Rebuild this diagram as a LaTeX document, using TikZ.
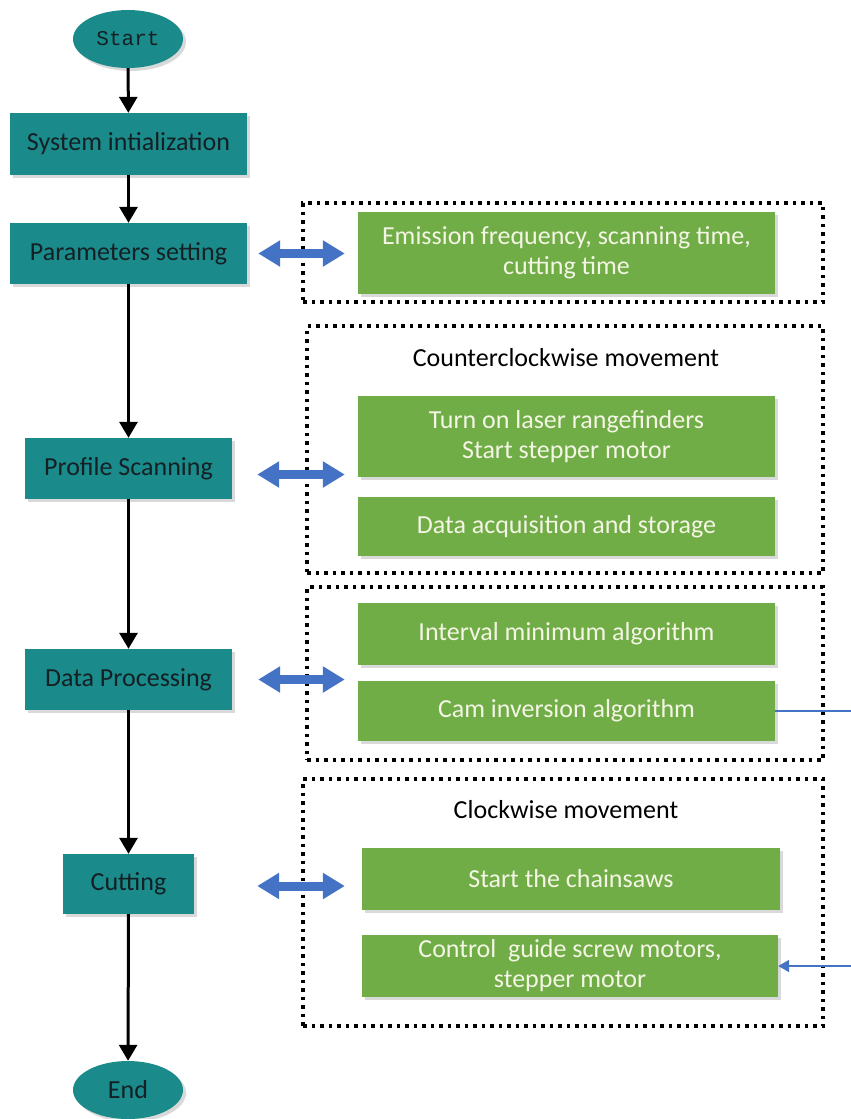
\documentclass[tikz,border=0pt]{standalone}
\usepackage{fontspec}
\setmainfont{Carlito}
\newfontfamily\monofont{Liberation Mono}
\usetikzlibrary{arrows.meta,shapes.geometric,shadows}

\definecolor{tealfill}{RGB}{26,138,138}
\definecolor{greenfill}{RGB}{112,173,71}
\definecolor{bluearrow}{RGB}{68,114,196}
\definecolor{greentext}{RGB}{244,245,228}
\definecolor{darktext}{RGB}{20,32,36}

\begin{document}
\begin{tikzpicture}[x=1pt,y=-1pt,
  shadowed/.style={drop shadow={shadow xshift=3pt,shadow yshift=-3pt,opacity=0.25,fill=black!60}},
  tealbox/.style={rectangle,fill=tealfill,text=darktext,inner sep=0pt,
    font=\fontsize{26}{30}\selectfont,shadowed},
  terminal/.style={ellipse,fill=tealfill,text=darktext,inner sep=0pt,
    minimum width=110pt,minimum height=58pt,shadowed},
  greenbox/.style={rectangle,fill=greenfill,text=greentext,inner sep=0pt,
    align=center,font=\fontsize{26}{30}\selectfont,shadowed},
  frame/.style={rectangle,draw=black,line width=3.5pt,dash pattern=on 3.5pt off 5pt,inner sep=0pt},
  label/.style={text=black,font=\fontsize{26}{30}\selectfont,inner sep=0pt},
  flow/.style={draw=black,line width=3pt,-{Triangle[width=18pt,length=16pt]}},
  bidir/.style={draw=bluearrow,line width=9pt,
    {Triangle[width=25pt,length=22pt]}-{Triangle[width=25pt,length=22pt]}},
  thinblue/.style={draw=bluearrow,line width=2.2pt}
]
\useasboundingbox (0,0) rectangle (851,1119);

% dotted frames
\node[frame,minimum width=520pt,minimum height=99pt] (f1) at (563,252.5) {};
\node[frame,minimum width=516pt,minimum height=247pt] (f2) at (565,449.5) {};
\node[frame,minimum width=516pt,minimum height=173pt] (f3) at (565,673.5) {};
\node[frame,minimum width=520pt,minimum height=247pt] (f4) at (563,902.5) {};

% left column
\node[terminal,font=\monofont\fontsize{21}{24}\selectfont] (start) at (128,39) {Start};
\node[tealbox,minimum width=237pt,minimum height=62pt] (sys) at (128.5,144) {System intialization};
\node[tealbox,minimum width=237pt,minimum height=61pt] (param) at (128.5,253.5) {Parameters setting};
\node[tealbox,minimum width=207pt,minimum height=61pt] (prof) at (128.5,468.5) {Profile Scanning};
\node[tealbox,minimum width=207pt,minimum height=61pt] (data) at (128.5,679.5) {Data Processing};
\node[tealbox,minimum width=131pt,minimum height=60pt] (cut) at (128.5,884) {Cutting};
\node[terminal,font=\fontsize{26}{30}\selectfont] (end) at (128,1090) {End};

% right column
\node[greenbox,minimum width=417pt,minimum height=82pt] (emit) at (566.5,253)
  {Emission frequency, scanning time,\\cutting time};
\node[label] (ccw) at (566,358) {Counterclockwise movement};
\node[greenbox,minimum width=417pt,minimum height=81pt] (laser) at (566.5,436.5)
  {Turn on laser rangefinders\\Start stepper motor};
\node[greenbox,minimum width=417pt,minimum height=59pt] (acq) at (566.5,526.5)
  {Data acquisition and storage};
\node[greenbox,minimum width=417pt,minimum height=62pt] (interval) at (566.5,634)
  {Interval minimum algorithm};
\node[greenbox,minimum width=417pt,minimum height=60pt] (cam) at (566.5,711)
  {Cam inversion algorithm};
\node[label] (cw) at (566,810) {Clockwise movement};
\node[greenbox,minimum width=418pt,minimum height=62pt] (saw) at (571,879)
  {Start the chainsaws};
\node[greenbox,minimum width=416pt,minimum height=62pt] (ctrl) at (570,966)
  {Control\ \ guide screw motors,\\stepper motor};

% vertical flow
\draw[flow] (start) -- (sys);
\draw[flow] (sys) -- (param);
\draw[flow] (param) -- (prof);
\draw[flow] (prof) -- (data);
\draw[flow] (data) -- (cut);
\draw[flow] (cut) -- (end);

% double arrows
\draw[bidir,shorten <=11pt,shorten >=13pt] (param.east) -- (param.east -| emit.west);
\draw[bidir,shorten <=25pt,shorten >=13pt] ([yshift=-6pt]prof.east) -- ([yshift=-6pt]prof.east -| laser.west);
\draw[bidir,shorten <=26pt,shorten >=13pt] (data.east) -- (data.east -| cam.west);
\draw[bidir,shorten <=63pt,shorten >=17pt] ([yshift=-2pt]cut.east) -- ([yshift=-2pt]cut.east -| saw.west);

% link leaving to the right
\coordinate (r1) at (851,711);
\coordinate (r2) at (851,966);
\draw[thinblue] (cam.east) -- (r1);
\draw[thinblue,-{Triangle[width=12pt,length=11pt]}] (r2) -- (ctrl.east);
\end{tikzpicture}
\end{document}
